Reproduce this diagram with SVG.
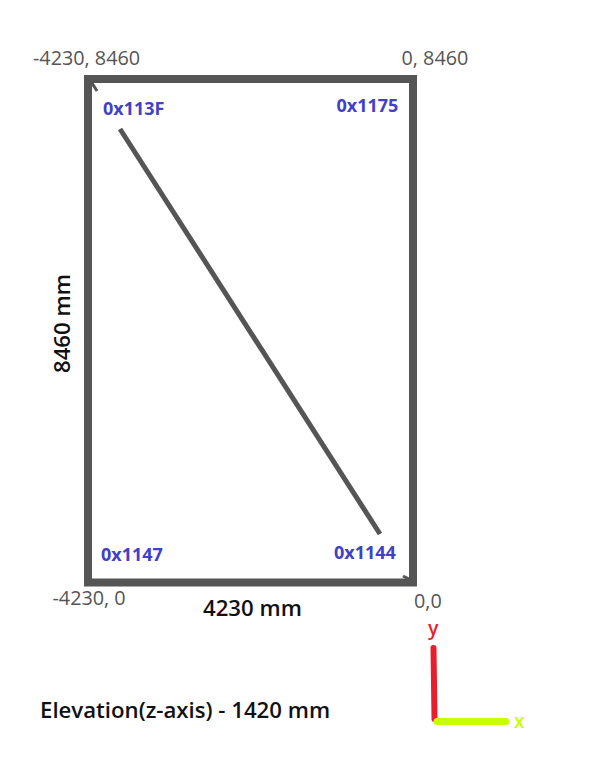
<svg xmlns="http://www.w3.org/2000/svg" width="611" height="759" viewBox="0 0 611 759">
<style>
.coord{font-family:"Open Sans","Liberation Sans",sans-serif;font-size:19.8px;fill:#555555}
.id{font-family:"Open Sans","Liberation Sans",sans-serif;font-size:18px;font-weight:700;fill:#4040c8}
.dim{font-family:"Open Sans","Liberation Sans",sans-serif;font-size:22.2px;font-weight:600;fill:#111111}
.wall{fill:none;stroke:#555555;stroke-width:8}
.edge{stroke:#555555;stroke-width:5;fill:none}
</style>
<rect width="611" height="759" fill="#ffffff"/>
<g id="room">
<rect class="wall" x="88" y="79" width="325" height="503.5"/>
</g>
<g id="connectors">
<line class="edge" x1="120" y1="129" x2="380" y2="534"/>
<line x1="92" y1="83" x2="97" y2="91" stroke="#555555" stroke-width="3"/>
<line x1="403" y1="576" x2="409" y2="579" stroke="#555555" stroke-width="3"/>
</g>
<g id="node-113F"><text class="id" x="103" y="115">0x113F</text></g>
<g id="node-1175"><text class="id" x="336.5" y="111.5">0x1175</text></g>
<g id="node-1147"><text class="id" x="101" y="561">0x1147</text></g>
<g id="node-1144"><text class="id" x="334" y="559">0x1144</text></g>
<g id="labels">
<text class="coord" x="33" y="65">-4230, 8460</text>
<text class="coord" x="401.5" y="65">0, 8460</text>
<text class="coord" x="52.5" y="605">-4230, 0</text>
<text class="coord" x="414" y="607.5">0,0</text>
<text class="dim" x="203" y="616">4230 mm</text>
<text class="dim" x="0" y="0" transform="translate(70,373) rotate(-90)">8460 mm</text>
<text class="dim" x="40" y="718">Elevation(z-axis) - 1420 mm</text>
</g>
<g id="axes">
<line x1="433.5" y1="648" x2="434.5" y2="719" stroke="#e81e2a" stroke-width="6" stroke-linecap="round"/>
<line x1="437" y1="721.5" x2="506" y2="721.5" stroke="#c8ff00" stroke-width="7" stroke-linecap="round"/>
<text x="428" y="634.5" font-family="Open Sans,Liberation Sans,sans-serif" font-size="19.5" font-weight="600" fill="#e81e2a">y</text>
<text x="514" y="728" font-family="Open Sans,Liberation Sans,sans-serif" font-size="19" font-weight="600" fill="#c8ff00">x</text>
</g>
</svg>
